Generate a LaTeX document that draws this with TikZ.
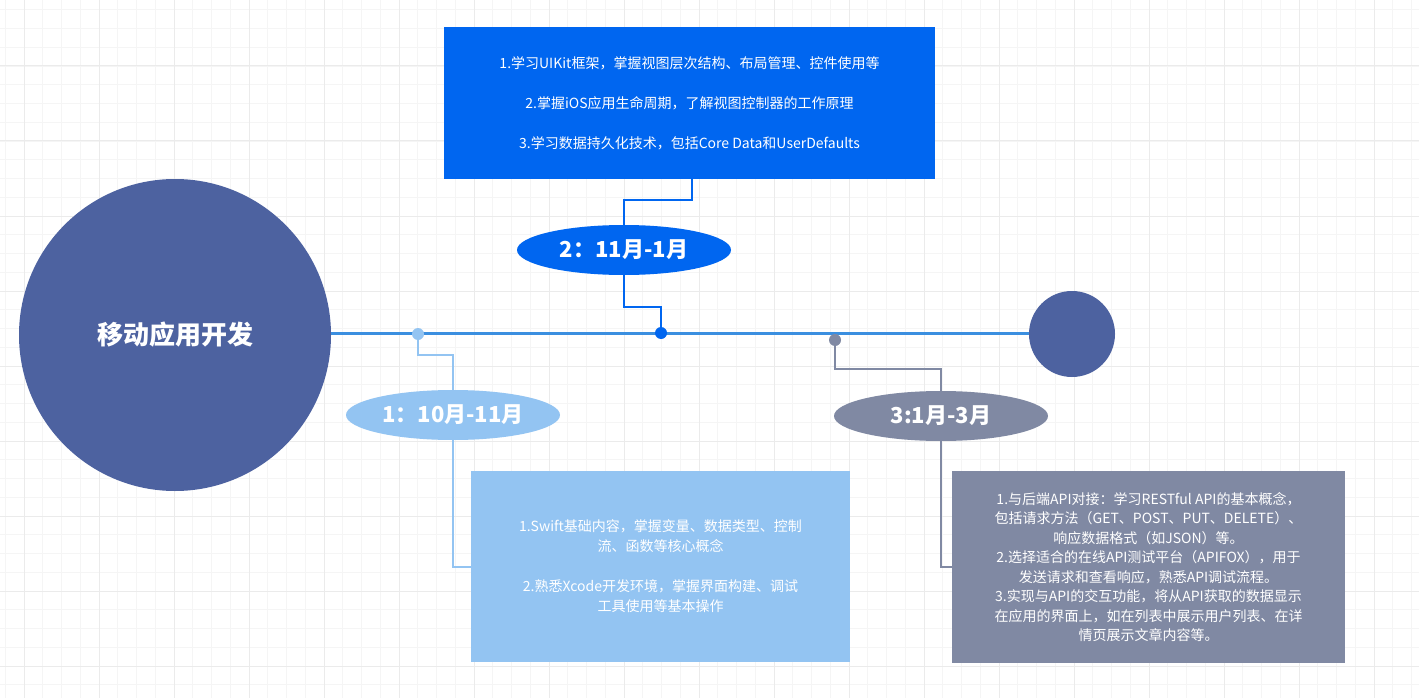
\documentclass[tikz,border=0pt]{standalone}
\usepackage{fontspec}
\setmainfont{Noto Sans CJK SC}
\usepackage{xcolor}
\definecolor{c4d62a0}{HTML}{4D62A0}
\definecolor{c0066f0}{HTML}{0066F0}
\definecolor{c93c4f2}{HTML}{93C4F2}
\definecolor{c8089a3}{HTML}{8089A3}
\definecolor{c3b8fe0}{HTML}{3B8FE0}
\usetikzlibrary{shapes.geometric}
\tikzset{
  phase/.style={ellipse, minimum width=214pt, minimum height=50pt, inner sep=0pt,
    text=white, font=\fontsize{22}{26}\selectfont\bfseries},
  infobox/.style={rectangle, inner sep=0pt, text=white, align=center,
    font=\fontsize{14}{20}\selectfont},
  dot/.style={circle, minimum size=12pt, inner sep=0pt},
  link/.style={line width=2pt}
}
\begin{document}
\begin{tikzpicture}[x=1pt,y=-1pt]
            \useasboundingbox (0,0) rectangle (1419,698);
            \fill[white] (0,0) rectangle (1419,698);
            % grid
            \foreach \i in {-1,...,75} {
                \draw[gray!8, line width=0.8pt] (24+\i*18.75,0) -- (24+\i*18.75,698);
            }
            \foreach \i in {-4,...,37} {
                \draw[gray!8, line width=0.8pt] (0,66+\i*18.75) -- (1419,66+\i*18.75);
            }
            \foreach \i in {0,...,19} {
                \draw[gray!16, line width=1pt] (24+\i*75,0) -- (24+\i*75,698);
            }
            \foreach \i in {-1,...,9} {
                \draw[gray!16, line width=1pt] (0,66+\i*75) -- (1419,66+\i*75);
            }

            % main line
            \node[circle, fill=c4d62a0, minimum size=312pt, inner sep=0pt, text=white,
                font=\fontsize{26}{30}\selectfont\bfseries] (root) at (175,335) {移动应用开发};
            \node[circle, fill=c4d62a0, minimum size=86pt, inner sep=0pt] (tail) at (1072,334) {};
            \draw[c3b8fe0, line width=3pt] (root.east |- 0,333) -- (tail.west |- 0,333);

            % phase 2
            \node[infobox, fill=c0066f0, minimum width=491pt, minimum height=152pt] (box2) at (689.5,103)
                {1.学习UIKit框架，掌握视图层次结构、布局管理、控件使用等\\[20pt]
                 2.掌握iOS应用生命周期，了解视图控制器的工作原理\\[20pt]
                 3.学习数据持久化技术，包括Core Data和UserDefaults};
            \node[phase, fill=c0066f0] (p2) at (624,250) {2：11月-1月};
            \node[dot, fill=c0066f0] (d2) at (661,333) {};
            \draw[link, c0066f0] (692,179) |- (624,200) -- (p2.north);
            \draw[link, c0066f0] (p2.south) |- (661,307) -- (d2);

            % phase 1
            \node[dot, fill=c93c4f2] (d1) at (418,334) {};
            \node[phase, fill=c93c4f2] (p1) at (453,415) {1：10月-11月};
            \node[infobox, fill=c93c4f2, minimum width=379pt, minimum height=191pt] (box1) at (660.5,566.5)
                {1.Swift基础内容，掌握变量、数据类型、控制\\流、函数等核心概念\\[20pt]
                 2.熟悉Xcode开发环境，掌握界面构建、调试\\工具使用等基本操作};
            \draw[link, c93c4f2] (d1) |- (453,355) -- (p1.north);
            \draw[link, c93c4f2] (p1.south) |- (box1.west |- 0,567);

            % phase 3
            \node[dot, fill=c8089a3] (d3) at (835,340) {};
            \node[phase, fill=c8089a3] (p3) at (941,416) {3:1月-3月};
            \node[infobox, fill=c8089a3, minimum width=393pt, minimum height=192pt,
                font=\fontsize{14}{19.5}\selectfont] (box3) at (1148.5,567)
                {1.与后端API对接：学习RESTful API的基本概念，\\包括请求方法（GET、POST、PUT、DELETE）、\\响应数据格式（如JSON）等。\\
                 2.选择适合的在线API测试平台（APIFOX），用于\\发送请求和查看响应，熟悉API调试流程。\\
                 3.实现与API的交互功能，将从API获取的数据显示\\在应用的界面上，如在列表中展示用户列表、在详\\情页展示文章内容等。};
            \draw[link, c8089a3] (d3) |- (941,369) -- (p3.north);
            \draw[link, c8089a3] (p3.south) |- (box3.west |- 0,567);
\end{tikzpicture}
\end{document}
